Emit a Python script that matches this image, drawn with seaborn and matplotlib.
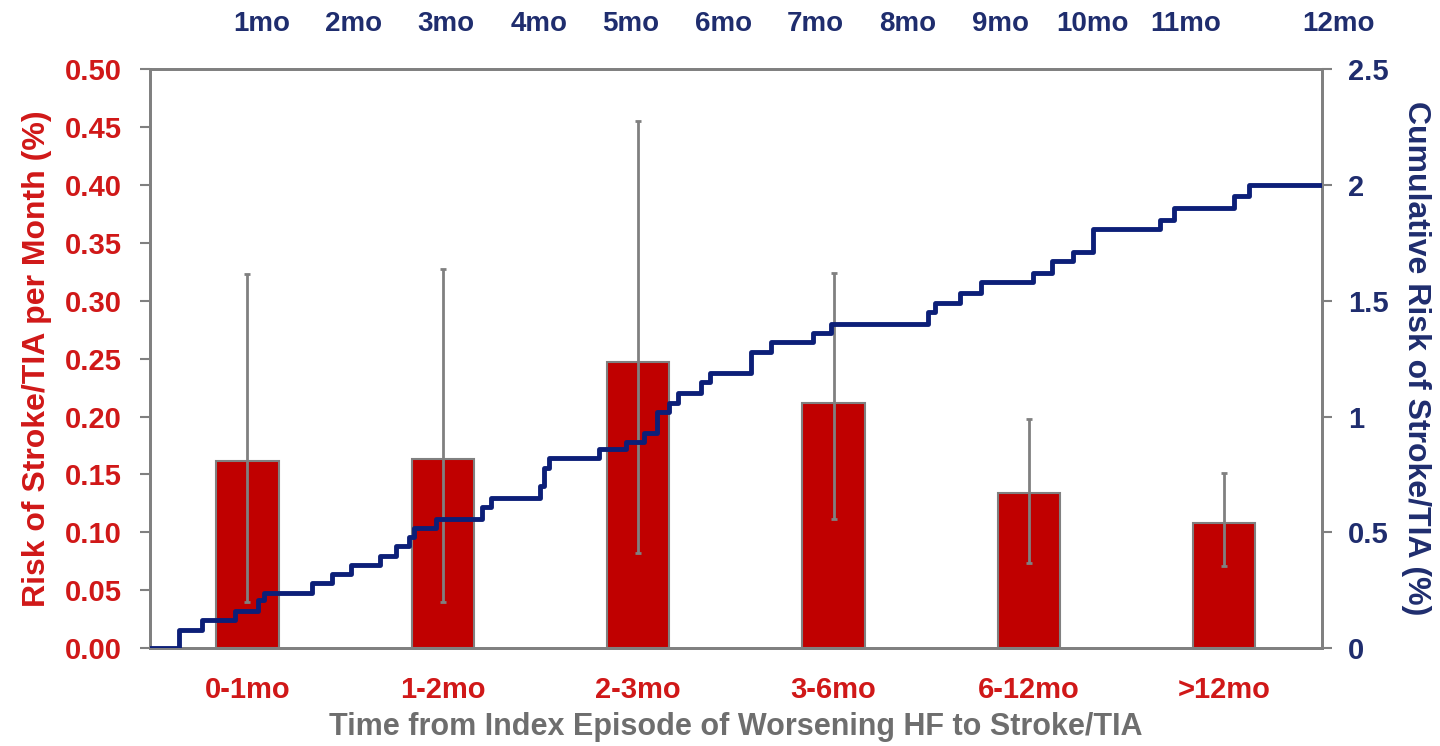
import numpy as np
import pandas as pd
import matplotlib
matplotlib.use("Agg")
import matplotlib.pyplot as plt
import seaborn as sns

# ---- data ----
categories = ["0-1mo", "1-2mo", "2-3mo", "3-6mo", "6-12mo", ">12mo"]
risk_per_month = [0.162, 0.163, 0.247, 0.212, 0.134, 0.108]
ci_low = [0.040, 0.040, 0.082, 0.112, 0.074, 0.071]
ci_high = [0.323, 0.327, 0.455, 0.324, 0.198, 0.151]

step_months = [-0.21, 0.11, 0.36, 0.71, 0.96, 1.03, 1.55, 1.76, 1.97, 2.28, 2.46,
               2.60, 2.65, 2.89, 3.39, 3.48, 4.01, 4.06, 4.11, 4.65, 4.95, 5.14,
               5.28, 5.41, 5.51, 5.76, 5.86, 6.30, 6.52, 6.97, 7.17, 8.21, 8.29,
               8.56, 8.79, 9.35, 9.56, 9.78, 10.00, 10.73, 10.88, 11.53, 11.69, 12.48]
cum_risk = [0.00, 0.08, 0.12, 0.16, 0.21, 0.24, 0.28, 0.32, 0.36, 0.40, 0.44,
            0.48, 0.52, 0.56, 0.61, 0.65, 0.70, 0.78, 0.82, 0.86, 0.89, 0.93,
            1.02, 1.06, 1.10, 1.15, 1.19, 1.28, 1.32, 1.36, 1.40, 1.45, 1.49,
            1.535, 1.58, 1.62, 1.67, 1.71, 1.81, 1.85, 1.90, 1.95, 2.00, 2.00]

month_labels = ["1mo", "2mo", "3mo", "4mo", "5mo", "6mo", "7mo", "8mo", "9mo",
                "10mo", "11mo", "12mo"]
month_label_pos = [1, 2, 3, 4, 5, 6, 7, 8, 9, 10, 11, 12.66]

left_ticks = [0.00, 0.05, 0.10, 0.15, 0.20, 0.25, 0.30, 0.35, 0.40, 0.45, 0.50]
right_ticks = [0, 0.5, 1, 1.5, 2, 2.5]
right_ticklabels = ["0", "0.5", "1", "1.5", "2", "2.5"]

# ---- style ----
sns.set_theme(style="white")
plt.rcParams["font.family"] = ["Liberation Sans", "DejaVu Sans"]
plt.rcParams["font.weight"] = "bold"

RED_BAR = "#C00000"
RED_TXT = "#D01818"
NAVY = "#0C1F78"
NAVY_TXT = "#1F2D6E"
GRAY = "#808080"
GRAY_TXT = "#6E6E6E"

fig = plt.figure(figsize=(14.4, 7.46), dpi=100)
ax = fig.add_axes([0.104, 0.131, 0.814, 0.7765])

df = pd.DataFrame({"cat": categories, "risk": risk_per_month})
sns.barplot(data=df, x="cat", y="risk", order=categories, color=RED_BAR,
            saturation=1, width=0.32, edgecolor=GRAY, linewidth=1.5, ax=ax,
            errorbar=None, zorder=2)

xs = np.arange(len(categories))
risk = np.array(risk_per_month)
yerr = np.vstack([risk - np.array(ci_low), np.array(ci_high) - risk])
ax.errorbar(xs, risk, yerr=yerr, fmt="none", ecolor=GRAY, elinewidth=2,
            capsize=2.5, capthick=2, zorder=3)

ax.set_xlim(-0.5, 5.5)
ax.set_ylim(0, 0.5)
ax.set_yticks(left_ticks)
ax.set_yticklabels([f"{t:.2f}" for t in left_ticks], color=RED_TXT,
                   fontsize=21, fontweight="bold")
ax.set_xticks(xs)
ax.set_xticklabels(categories, color=RED_TXT, fontsize=21, fontweight="bold")
ax.tick_params(axis="x", length=0, pad=20)
ax.tick_params(axis="y", length=7, width=1.5, color=GRAY, direction="out", left=True, pad=13)
ax.set_xlabel("Time from Index Episode of Worsening HF to Stroke/TIA",
              color=GRAY_TXT, fontsize=22, fontweight="bold", labelpad=6)
ax.set_ylabel("Risk of Stroke/TIA per Month (%)", color=RED_TXT, fontsize=23,
              fontweight="bold", labelpad=9)
for s in ax.spines.values():
    s.set_color(GRAY)
    s.set_linewidth(2)

# cumulative risk on secondary axes
ax2 = ax.twinx()
ax2.set_ylim(0, 2.5)
ax2.set_yticks(right_ticks)
ax2.set_yticklabels(right_ticklabels, color=NAVY_TXT, fontsize=21, fontweight="bold")
ax2.tick_params(axis="y", length=7, width=1.5, color=GRAY, direction="out", right=True, pad=12)
ax2.set_ylabel("Cumulative Risk of Stroke/TIA (%)", color=NAVY_TXT, fontsize=23,
               fontweight="bold", rotation=270, labelpad=30)
for s in ax2.spines.values():
    s.set_color(GRAY)
    s.set_linewidth(2)

ax3 = ax2.twiny()
ax3.set_xlim(step_months[0], step_months[-1])
line_df = pd.DataFrame({"month": step_months, "cum": cum_risk})
sns.lineplot(data=line_df, x="month", y="cum", ax=ax3, color=NAVY, linewidth=3.5,
             drawstyle="steps-post", sort=False, zorder=4)
ax3.set_xlabel("")
ax3.set_xticks([])
for s in ax3.spines.values():
    s.set_visible(False)
for lab, pos in zip(month_labels, month_label_pos):
    ax3.text(pos, 1.055, lab, transform=ax3.get_xaxis_transform(), ha="center",
             va="bottom", color=NAVY_TXT, fontsize=20, fontweight="bold", clip_on=False)

fig.savefig("out.png", dpi=100)
